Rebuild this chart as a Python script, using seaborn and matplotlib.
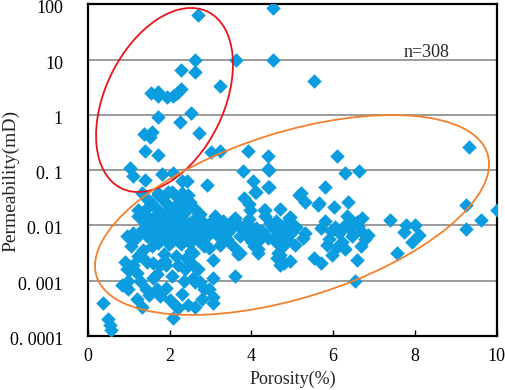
import numpy as np
import pandas as pd
import seaborn as sns
import matplotlib.pyplot as plt
from matplotlib.patches import Ellipse
from matplotlib import transforms

porosity = [
    # high permeability group (red ellipse)
    2.70, 2.62, 3.62, 2.27, 2.62, 3.22, 1.54, 1.72, 1.72, 1.93, 2.09, 2.17, 2.27,
    2.52, 1.72, 2.24, 2.72, 1.37, 1.56, 1.52, 1.40, 1.72,
    4.53, 4.53, 5.54,
    # 0.05 - 0.3
    3.01, 3.23, 3.92, 4.40, 6.09, 9.32, 1.03, 1.11, 1.40, 1.82, 2.09, 2.30, 2.42,
    2.92, 3.80, 4.40, 4.42, 6.28, 6.63, 4.04, 4.40, 5.81, 4.42,
    # 0.02 - 0.05
    1.32, 1.72, 2.06, 2.30, 1.72, 1.96, 1.92, 2.50, 2.38, 2.37, 1.39, 1.23, 2.25,
    5.20, 5.32, 5.62, 6.01, 6.36, 5.16, 5.65, 4.12, 4.09, 3.81, 3.93, 3.97, 4.34,
    4.71, 4.30, 9.24, 10.0,
    # 0.01 - 0.02
    1.23, 1.44, 1.63, 2.21, 2.66, 2.66, 2.99, 3.60, 4.95, 3.07, 3.56, 4.93, 4.46,
    4.50, 4.95, 3.85, 4.34, 5.81, 6.34, 6.59, 6.71, 6.30, 6.50, 6.60, 7.40, 7.79,
    8.01, 9.62, 9.24, 7.73, 8.11, 7.93, 7.55,
    # 0.001 - 0.01, right side
    3.97, 4.22, 4.75, 4.83, 4.99, 5.32, 5.07, 4.79, 4.66, 4.62, 4.71, 4.95, 5.52,
    5.69, 5.89, 5.97, 6.13, 6.22, 6.30, 6.59, 6.67, 6.79, 4.17, 4.01, 6.54, 4.71,
    4.79, 4.87, 3.40, 3.56, 3.73, 3.89, 4.17, 4.22, 3.60, 3.24, 3.73, 4.05, 3.68,
    4.13, 3.40, 2.95, 3.07, 5.70, 5.95, 6.05, 6.40, 6.45, 6.70, 5.10, 5.25, 6.85,
    5.85, 6.10, 4.55, 4.40, 4.60, 4.60, 4.70, 4.85, 4.65,
    # low porosity, low permeability
    0.37, 0.49, 0.57, 0.53, 0.82, 0.98, 1.02, 1.10, 1.23, 1.27, 1.19, 1.31, 1.59,
    1.43, 1.92, 1.76, 1.92, 2.12, 2.08, 2.29, 2.21, 2.45, 2.37, 2.61, 1.06, 1.35,
    1.59, 1.88, 2.21, 2.57, 2.53, 1.47, 1.27, 1.14, 1.63, 1.96, 2.25, 2.62, 2.79,
    3.07, 2.95, 2.75, 2.58, 2.70, 2.50, 2.99, 2.91, 2.83, 2.58, 0.95, 1.11, 1.27,
    0.95, 0.99, 1.68, 3.07, 2.83, 3.07, 1.56, 1.76, 2.70, 1.44, 1.20, 1.70, 2.05,
    2.35, 1.85, 2.15, 2.40, 0.90, 1.50, 2.00,
    # dense core
    1.50, 1.55, 1.60, 1.65, 1.70, 1.75, 1.78, 1.80, 1.85, 1.88, 1.90, 1.95, 2.00,
    2.02, 2.05, 2.08, 2.10, 2.12, 2.15, 2.18, 2.20, 2.23, 2.26, 2.30, 2.32, 2.35,
    2.38, 2.40, 2.45, 2.48, 2.52, 2.55, 2.58, 2.63, 2.68, 2.72, 2.78, 2.85, 1.40,
    1.45, 1.35, 1.62, 1.72, 1.98, 2.28, 2.50, 1.90, 2.10, 2.40, 2.60, 1.70, 2.00,
    2.75, 1.55, 2.20, 1.80, 2.45, 2.15, 1.45, 1.95,
    3.10, 3.20, 3.30, 3.45, 3.15, 3.30, 3.50, 3.65, 3.75, 3.90, 4.10, 4.25, 3.95,
]

permeability = [
    65, 10, 10, 6.6, 6.0, 3.4, 2.5, 2.6, 2.2, 2.1, 2.2, 2.5, 2.9,
    1.1, 0.93, 0.75, 0.47, 0.46, 0.50, 0.40, 0.22, 0.19,
    85, 10, 4.2,
    0.21, 0.22, 0.22, 0.18, 0.18, 0.26, 0.11, 0.08, 0.066, 0.085, 0.09, 0.065, 0.065,
    0.055, 0.095, 0.105, 0.10, 0.09, 0.097, 0.064, 0.049, 0.049, 0.05,
    0.039, 0.039, 0.041, 0.039, 0.036, 0.041, 0.025, 0.027, 0.030, 0.020, 0.019, 0.019, 0.019,
    0.039, 0.027, 0.023, 0.022, 0.027, 0.036, 0.025, 0.041, 0.041, 0.032, 0.024, 0.019, 0.019,
    0.020, 0.019, 0.023, 0.019,
    0.015, 0.015, 0.015, 0.015, 0.015, 0.0137, 0.0113, 0.0137, 0.014, 0.0113, 0.0128, 0.0137, 0.0113,
    0.0098, 0.0118, 0.0097, 0.015, 0.012, 0.015, 0.0118, 0.0137, 0.010, 0.0113, 0.0097, 0.0128, 0.010,
    0.010, 0.0128, 0.0087, 0.0077, 0.0066, 0.0051, 0.0032,
    0.0072, 0.0064, 0.0072, 0.0059, 0.0077, 0.0072, 0.0045, 0.0045, 0.0032, 0.0026, 0.0019, 0.0023, 0.0026,
    0.0021, 0.0056, 0.0029, 0.0072, 0.0051, 0.0037, 0.0024, 0.0042, 0.0056, 0.0032, 0.0051, 0.00098, 0.0029,
    0.0021, 0.0056, 0.0072, 0.0042, 0.0032, 0.0064, 0.0037, 0.0056, 0.0012, 0.0045, 0.0064, 0.0042, 0.0030,
    0.0072, 0.0056, 0.0039, 0.0024, 0.0090, 0.0080, 0.0095, 0.0085, 0.0065, 0.0075, 0.0095, 0.0060, 0.0068,
    0.0045, 0.0040, 0.0085, 0.0060, 0.0050, 0.0120, 0.0090, 0.0105, 0.0068,
    0.0004, 0.0002, 0.00013, 0.00016, 0.00085, 0.0007, 0.0016, 0.0019, 0.0028, 0.00098, 0.00046, 0.00034, 0.0011,
    0.0007, 0.0019, 0.00053, 0.00074, 0.00037, 0.00021, 0.00058, 0.00032, 0.00037, 0.0016, 0.00093, 0.0042, 0.0036,
    0.0021, 0.0023, 0.0019, 0.0019, 0.0034, 0.0096, 0.0072, 0.0056, 0.0051, 0.0056, 0.0051, 0.00034, 0.00046,
    0.0005, 0.0007, 0.00093, 0.0011, 0.0016, 0.0022, 0.0083, 0.0064, 0.0042, 0.0032, 0.0064, 0.0072, 0.0029,
    0.0016, 0.0010, 0.0007, 0.0004, 0.0007, 0.0011, 0.0042, 0.0019, 0.0083, 0.0022, 0.0014, 0.0013, 0.0012,
    0.0010, 0.0030, 0.0028, 0.0026, 0.0022, 0.00055, 0.00045,
    0.012, 0.0085, 0.010, 0.0075, 0.012, 0.0090, 0.0065, 0.011, 0.0080, 0.014, 0.0060, 0.0095, 0.0070,
    0.012, 0.0085, 0.0055, 0.010, 0.0075, 0.013, 0.0065, 0.0090, 0.011, 0.0070, 0.0085, 0.0058, 0.012,
    0.0078, 0.0095, 0.0068, 0.011, 0.0082, 0.0060, 0.0100, 0.0073, 0.0055, 0.0095, 0.0068, 0.0110, 0.0110,
    0.0065, 0.0085, 0.0060, 0.0048, 0.0046, 0.0046, 0.0048, 0.017, 0.016, 0.018, 0.021, 0.020, 0.022,
    0.016, 0.026, 0.026, 0.031, 0.035, 0.034, 0.030, 0.014,
    0.0150, 0.0095, 0.0120, 0.0100, 0.0068, 0.0080, 0.0085, 0.0110, 0.0090, 0.0110, 0.0090, 0.0080, 0.0130,
]

y_ticks = [1e-4, 1e-3, 1e-2, 1e-1, 1, 10, 100]
y_labels = ['0. 0001', '0. 001', '0. 01', '0. 1', '1', '10', '100']
x_ticks = [0, 2, 4, 6, 8, 10]

df = pd.DataFrame({'porosity': porosity, 'permeability': permeability})

sns.set_theme(style='white')
plt.rcParams['font.family'] = ['Liberation Serif', 'DejaVu Serif']

fig = plt.figure(figsize=(5.05, 3.90), dpi=100)
ax = fig.add_axes([0.1743, 0.1385, 0.8092, 0.85])

sns.scatterplot(data=df, x='porosity', y='permeability', marker='D', s=55,
                color='#0b9de0', linewidth=0, ax=ax, zorder=3)

ax.set_yscale('log')
ax.set_xlim(0, 10)
ax.set_ylim(1e-4, 100)
ax.set_yticks(y_ticks)
ax.set_yticklabels(y_labels)
ax.yaxis.set_minor_locator(plt.NullLocator())
ax.set_xticks(x_ticks)
ax.tick_params(axis='y', length=0, pad=18, labelsize=13, colors='black')
ax.tick_params(axis='x', direction='in', length=4, width=1, pad=9, labelsize=13,
               bottom=True, colors='black')
ax.grid(axis='y', color='#8a8a8a', linewidth=1.2, zorder=1)
ax.set_axisbelow(True)
for sp in ax.spines.values():
    sp.set_color('black')
    sp.set_linewidth(1.6)

# y labels sit a little below their grid lines
shift = transforms.ScaledTranslation(0, -2.5 / 100, fig.dpi_scale_trans)
for lab in ax.get_yticklabels():
    lab.set_transform(lab.get_transform() + shift)

ax.set_xlabel('Porosity(%)', fontsize=13, labelpad=4)
ax.set_ylabel('Permeability(mD)', fontsize=14)
ax.yaxis.set_label_coords(-0.168, 0.468)

# ellipses outlined in axes pixel space
W = ax.bbox.width
H = ax.bbox.height
px = transforms.Affine2D().scale(1 / W, 1 / H) + ax.transAxes
ax.add_patch(Ellipse((76.5, 236), 2 * 98.3, 2 * 59.1, angle=63.9, transform=px,
                     fill=False, edgecolor='#e8141c', linewidth=1.3, zorder=4,
                     clip_on=False))
ax.add_patch(Ellipse((204, 121), 2 * 204.8, 2 * 82.8, angle=17.4, transform=px,
                     fill=False, edgecolor='#f2802d', linewidth=1.3, zorder=4,
                     clip_on=False))

ax.text(0.828, 0.855, 'n=308', transform=ax.transAxes, fontsize=13,
        ha='center', va='center')

fig.savefig('out.png', dpi=100)
